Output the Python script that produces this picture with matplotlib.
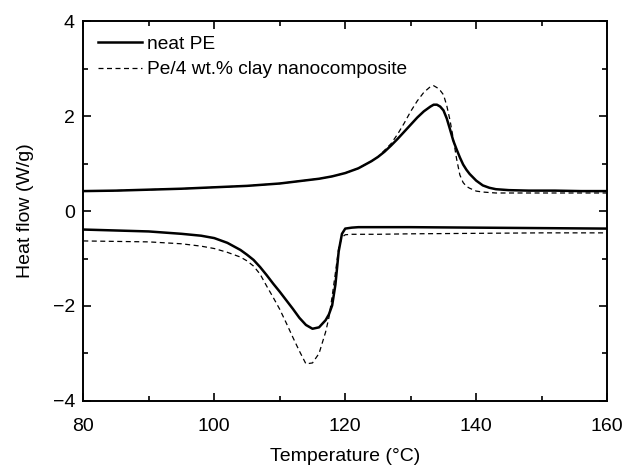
import numpy as np
import matplotlib.pyplot as plt
from matplotlib.ticker import MultipleLocator

plt.rcParams['font.family'] = ['Liberation Sans', 'DejaVu Sans']

# heating scan (melting, upper curves)
t_up = [80, 85, 90, 95, 100, 105, 110, 113, 116, 118, 120, 122, 124, 125, 126,
        127, 128, 129, 130, 131, 132, 133, 133.5, 134, 134.5, 135, 135.5, 136,
        136.5, 137, 137.5, 138, 138.5, 139, 140, 141, 142, 143, 145, 148, 152,
        156, 160]
pe_up = [0.42, 0.43, 0.45, 0.47, 0.50, 0.53, 0.58, 0.63, 0.68, 0.73, 0.80, 0.90,
         1.05, 1.14, 1.25, 1.38, 1.52, 1.67, 1.82, 1.97, 2.10, 2.20, 2.24, 2.24,
         2.20, 2.12, 1.95, 1.72, 1.48, 1.30, 1.13, 0.98, 0.87, 0.78, 0.64, 0.54,
         0.49, 0.46, 0.44, 0.43, 0.43, 0.42, 0.42]
nc_up = [0.42, 0.43, 0.45, 0.47, 0.50, 0.53, 0.58, 0.63, 0.68, 0.73, 0.80, 0.90,
         1.05, 1.14, 1.28, 1.42, 1.62, 1.85, 2.10, 2.32, 2.50, 2.62, 2.64, 2.60,
         2.54, 2.45, 2.22, 1.91, 1.52, 1.10, 0.76, 0.60, 0.52, 0.48, 0.42, 0.40,
         0.39, 0.38, 0.38, 0.38, 0.38, 0.38, 0.38]

# cooling scan (crystallisation, lower curves)
t_dn = [80, 85, 90, 95, 98, 100, 102, 104, 105, 106, 107, 108, 109, 110, 111,
        112, 113, 114, 115, 116, 117, 117.5, 118, 118.5, 119, 119.5, 120, 121,
        122, 125, 130, 140, 150, 160]
pe_dn = [-0.39, -0.41, -0.43, -0.48, -0.52, -0.57, -0.67, -0.82, -0.92, -1.03,
         -1.18, -1.35, -1.53, -1.70, -1.88, -2.06, -2.25, -2.40, -2.48, -2.45,
         -2.30, -2.18, -1.99, -1.55, -0.85, -0.48, -0.37, -0.35, -0.34, -0.34,
         -0.34, -0.35, -0.36, -0.37]
nc_dn = [-0.63, -0.64, -0.65, -0.69, -0.74, -0.79, -0.87, -0.97, -1.05, -1.16,
         -1.33, -1.58, -1.82, -2.07, -2.36, -2.66, -2.95, -3.22, -3.20, -3.00,
         -2.55, -2.25, -1.80, -1.30, -0.78, -0.55, -0.50, -0.49, -0.49, -0.49,
         -0.48, -0.47, -0.46, -0.46]

fig = plt.figure(figsize=(6.26, 4.70), dpi=100)
ax = fig.add_axes([0.133, 0.147, 0.837, 0.808])

dash = (0, (4, 2.8))
ax.plot(t_up, pe_up, color='k', lw=1.8, label='neat PE')
ax.plot(t_dn, pe_dn, color='k', lw=1.8)
ax.plot(t_up, nc_up, color='k', lw=0.9, ls=dash, label='Pe/4 wt.% clay nanocomposite')
ax.plot(t_dn, nc_dn, color='k', lw=0.9, ls=dash)

ax.set_xlim(80, 160)
ax.set_ylim(-4, 4)
ax.xaxis.set_major_locator(MultipleLocator(20))
ax.xaxis.set_minor_locator(MultipleLocator(10))
ax.yaxis.set_major_locator(MultipleLocator(2))
ax.yaxis.set_minor_locator(MultipleLocator(1))
ax.tick_params(which='both', direction='in', top=True, right=True, width=1.2, labelsize=14)
ax.tick_params(which='major', length=6)
ax.tick_params(axis='x', which='major', pad=12)
ax.tick_params(axis='y', which='major', pad=6)
ax.tick_params(which='minor', length=3.5)
for s in ax.spines.values():
    s.set_linewidth(1.4)

ax.set_xlabel('Temperature (°C)', fontsize=14, labelpad=10)
ax.set_ylabel('Heat flow (W/g)', fontsize=14, labelpad=13)
ax.legend(loc='upper left', frameon=False, fontsize=13.8, handlelength=2.3,
          handletextpad=0.3, borderaxespad=0.45, borderpad=0.3, labelspacing=0.42)

fig.savefig('out.png', dpi=100)
